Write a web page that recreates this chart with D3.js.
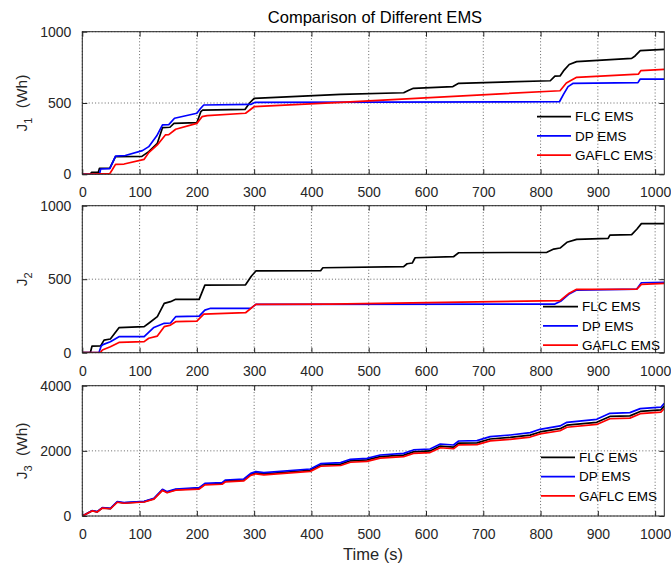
<!DOCTYPE html>
<html>
<head>
<meta charset="utf-8">
<script src="https://cdn.jsdelivr.net/npm/d3@7"></script>
<style>
  html, body { margin: 0; padding: 0; background: #fff; }
  svg { display: block; font-family: "Liberation Sans", Arial, sans-serif; }
</style>
</head>
<body>
<svg id="chart" width="671" height="564"></svg>
<script>
// ---------------- DATA ----------------
const seriesNames = ["FLC EMS", "DP EMS", "GAFLC EMS"];
const xTicks = [0, 100, 200, 300, 400, 500, 600, 700, 800, 900, 1000];
const xDomain = [0, 1016];
const yTicks1 = [0, 500, 1000];
const yTicks2 = [0, 500, 1000];
const yTicks3 = [0, 2000, 4000];
const titleText = "Comparison of Different EMS";
const xLabelText = "Time (s)";

// J1 (Wh)
const j1FLC = [[0,0],[14,0],[16,14],[28,15],[30,42],[48,44],[58,124],[104,126],[116,159],[131,217],[140,327],[153,330],[160,357],[200,362],[207,440],[210,450],[284,455],[292,500],[300,533],[451,560],[561,572],[570,590],[578,603],[647,615],[657,638],[817,656],[825,689],[834,690],[840,725],[850,770],[863,790],[959,813],[965,830],[974,867],[1016,876]];
const j1DP = [[0,0],[30,0],[32,37],[48,40],[58,128],[75,132],[105,166],[116,194],[130,270],[140,346],[151,348],[161,393],[200,428],[206,460],[212,486],[294,490],[302,505],[833,509],[840,560],[848,615],[857,638],[970,643],[974,668],[1016,668]];
const j1GAFLC = [[0,0],[48,5],[52,30],[58,70],[73,72],[108,105],[116,152],[131,206],[145,276],[151,278],[163,316],[200,357],[209,404],[218,411],[285,428],[300,474],[451,505],[834,586],[845,640],[863,680],[971,703],[975,727],[1016,736]];

// J2
const j2FLC = [[0,0],[14,0],[17,45],[32,46],[38,86],[49,93],[64,170],[108,177],[116,200],[131,245],[143,336],[154,347],[163,363],[204,363],[214,460],[285,462],[295,520],[303,556],[416,558],[420,578],[561,585],[567,605],[576,610],[581,646],[648,653],[657,680],[811,683],[823,705],[834,712],[846,751],[863,771],[918,778],[921,800],[959,803],[968,840],[976,878],[1016,878]];
const j2DP = [[0,0],[29,0],[33,45],[36,55],[49,75],[64,109],[108,109],[125,172],[143,200],[154,202],[163,245],[204,249],[214,290],[224,302],[294,302],[303,329],[825,331],[835,350],[850,400],[863,426],[968,433],[976,476],[1016,478]];
const j2GAFLC = [[0,0],[32,3],[35,18],[49,41],[64,70],[108,75],[116,98],[131,113],[143,177],[154,188],[163,211],[200,215],[212,263],[285,272],[303,329],[433,331],[834,354],[850,405],[863,431],[968,433],[976,465],[1016,472]];

// J3 (Wh)
const j3FLC = [[0,0],[17,160],[26,128],[35,250],[49,228],[61,430],[73,400],[108,440],[125,530],[140,800],[148,728],[163,810],[204,848],[214,978],[244,998],[250,1076],[282,1105],[294,1276],[303,1326],[317,1296],[398,1405],[416,1566],[451,1594],[468,1694],[497,1722],[520,1822],[561,1870],[578,1970],[607,1998],[625,2148],[648,2116],[657,2236],[689,2244],[712,2364],[747,2412],[782,2482],[799,2580],[834,2680],[846,2788],[898,2876],[921,3056],[956,3074],[974,3210],[1010,3260],[1016,3380]];
const j3DP = [[0,0],[17,164],[26,133],[35,256],[49,235],[61,440],[73,410],[108,450],[125,542],[140,819],[148,747],[163,829],[204,870],[214,1003],[244,1024],[250,1105],[282,1136],[294,1310],[303,1361],[317,1331],[398,1443],[416,1607],[451,1637],[468,1740],[497,1771],[520,1873],[561,1924],[578,2027],[607,2057],[625,2211],[648,2180],[657,2303],[689,2313],[712,2436],[747,2487],[782,2559],[799,2661],[834,2764],[846,2876],[898,2968],[921,3153],[956,3173],[974,3296],[1010,3340],[1016,3460]];
const j3GAFLC = [[0,0],[17,155],[26,124],[35,244],[49,222],[61,422],[73,392],[108,430],[125,518],[140,785],[148,712],[163,792],[204,828],[214,955],[244,975],[250,1050],[282,1078],[294,1246],[303,1296],[317,1264],[398,1370],[416,1528],[451,1550],[468,1650],[497,1678],[520,1776],[561,1822],[578,1920],[607,1948],[625,2096],[648,2064],[657,2182],[689,2190],[712,2308],[747,2354],[782,2424],[799,2520],[834,2618],[846,2724],[898,2810],[921,2986],[956,3004],[974,3140],[1010,3190],[1016,3300]];

// ---------------- STYLE / LAYOUT ----------------
const colors = ["#000000", "#0000ff", "#ff0000"];
const plotLeft = 82.3, plotRight = 664.3;
const panels = [
  { top: 31.7, bottom: 174.3, yMax: 1000, ticks: yTicks1, sub: "1", unit: " (Wh)", series: [j1FLC, j1DP, j1GAFLC],
    legend: { x1: 537, x2: 571, tx: 575, y0: 116.7, dy: 19.2 } },
  { top: 205.7, bottom: 352.7, yMax: 1000, ticks: yTicks2, sub: "2", unit: "", series: [j2FLC, j2DP, j2GAFLC],
    legend: { x1: 543, x2: 578, tx: 582, y0: 306.7, dy: 19.2 } },
  { top: 385.7, bottom: 516, yMax: 4000, ticks: yTicks3, sub: "3", unit: " (Wh)", series: [j3FLC, j3DP, j3GAFLC],
    legend: { x1: 541, x2: 575, tx: 579, y0: 457.3, dy: 19.3 } }
];
const textColor = "#262626";
const tickLen = 5;

const svg = d3.select("#chart");
const x = d3.scaleLinear().domain(xDomain).range([plotLeft, plotRight]);

// title
svg.append("text").attr("x", 375).attr("y", 23).attr("text-anchor", "middle")
  .attr("font-size", 16.5).attr("fill", "#000").text(titleText);

panels.forEach((p, i) => {
  const y = d3.scaleLinear().domain([0, p.yMax]).range([p.bottom, p.top]);
  const g = svg.append("g");
  const clipId = "clip" + i;
  svg.append("clipPath").attr("id", clipId).append("rect")
    .attr("x", plotLeft).attr("y", p.top).attr("width", plotRight - plotLeft).attr("height", p.bottom - p.top);

  // grid
  g.append("g").selectAll("line").data(xTicks).join("line")
    .attr("x1", d => x(d)).attr("x2", d => x(d)).attr("y1", p.top).attr("y2", p.bottom)
    .attr("stroke", "#555").attr("stroke-width", 0.9).attr("stroke-dasharray", "1,2.2");
  g.append("g").selectAll("line").data(p.ticks).join("line")
    .attr("x1", plotLeft).attr("x2", plotRight).attr("y1", d => y(d)).attr("y2", d => y(d))
    .attr("stroke", "#555").attr("stroke-width", 0.9).attr("stroke-dasharray", "1,2.2");

  // lines
  const line = d3.line().x(d => x(d[0])).y(d => y(d[1]));
  const lg = g.append("g").attr("clip-path", `url(#${clipId})`);
  p.series.forEach((s, k) => {
    lg.append("path").datum(s).attr("d", line).attr("fill", "none")
      .attr("stroke", colors[k]).attr("stroke-width", 1.7).attr("stroke-linejoin", "round");
  });

  // axes with d3 (bottom & left), inward ticks
  const xAxis = d3.axisBottom(x).tickValues(xTicks).tickSize(-tickLen).tickPadding(tickLen + 8).tickFormat(d3.format("d"));
  const yAxis = d3.axisLeft(y).tickValues(p.ticks).tickSize(-tickLen).tickPadding(tickLen + 6).tickFormat(d3.format("d"));
  const xa = g.append("g").attr("transform", `translate(0,${p.bottom})`).call(xAxis);
  const ya = g.append("g").attr("transform", `translate(${plotLeft},0)`).call(yAxis);
  // top & right ticks
  const xt = g.append("g").attr("transform", `translate(0,${p.top})`)
    .call(d3.axisTop(x).tickValues(xTicks).tickSize(-tickLen).tickFormat(""));
  const yr = g.append("g").attr("transform", `translate(${plotRight},0)`)
    .call(d3.axisRight(y).tickValues(p.ticks).tickSize(-tickLen).tickFormat(""));
  [xa, ya, xt, yr].forEach(a => {
    a.select(".domain").remove();
    a.selectAll("line").attr("stroke", textColor);
    a.selectAll("text").attr("fill", textColor).attr("font-size", 14)
      .attr("font-family", '"Liberation Sans", Arial, sans-serif');
  });

  // frame
  g.append("rect").attr("x", plotLeft).attr("y", p.top).attr("width", plotRight - plotLeft)
    .attr("height", p.bottom - p.top).attr("fill", "none").attr("stroke", textColor).attr("stroke-width", 1);

  // y label
  const cy = (p.top + p.bottom) / 2;
  const yl = svg.append("text").attr("transform", `translate(27,${cy}) rotate(-90)`)
    .attr("text-anchor", "middle").attr("font-size", 15.5).attr("fill", textColor);
  yl.append("tspan").text("J");
  yl.append("tspan").attr("font-size", 11).attr("dy", 5).text(p.sub);
  if (p.unit) yl.append("tspan").attr("dy", -5).attr("dx", 5).text(p.unit);

  // legend
  seriesNames.forEach((name, k) => {
    const ly = p.legend.y0 + k * p.legend.dy;
    svg.append("line").attr("x1", p.legend.x1).attr("x2", p.legend.x2).attr("y1", ly).attr("y2", ly)
      .attr("stroke", colors[k]).attr("stroke-width", 1.8);
    svg.append("text").attr("x", p.legend.tx).attr("y", ly).attr("dy", "0.35em")
      .attr("font-size", 13.5).attr("fill", "#000").text(name);
  });
});

// x label
svg.append("text").attr("x", 373).attr("y", 560).attr("text-anchor", "middle")
  .attr("font-size", 16.5).attr("fill", textColor).text(xLabelText);
</script>
</body>
</html>
